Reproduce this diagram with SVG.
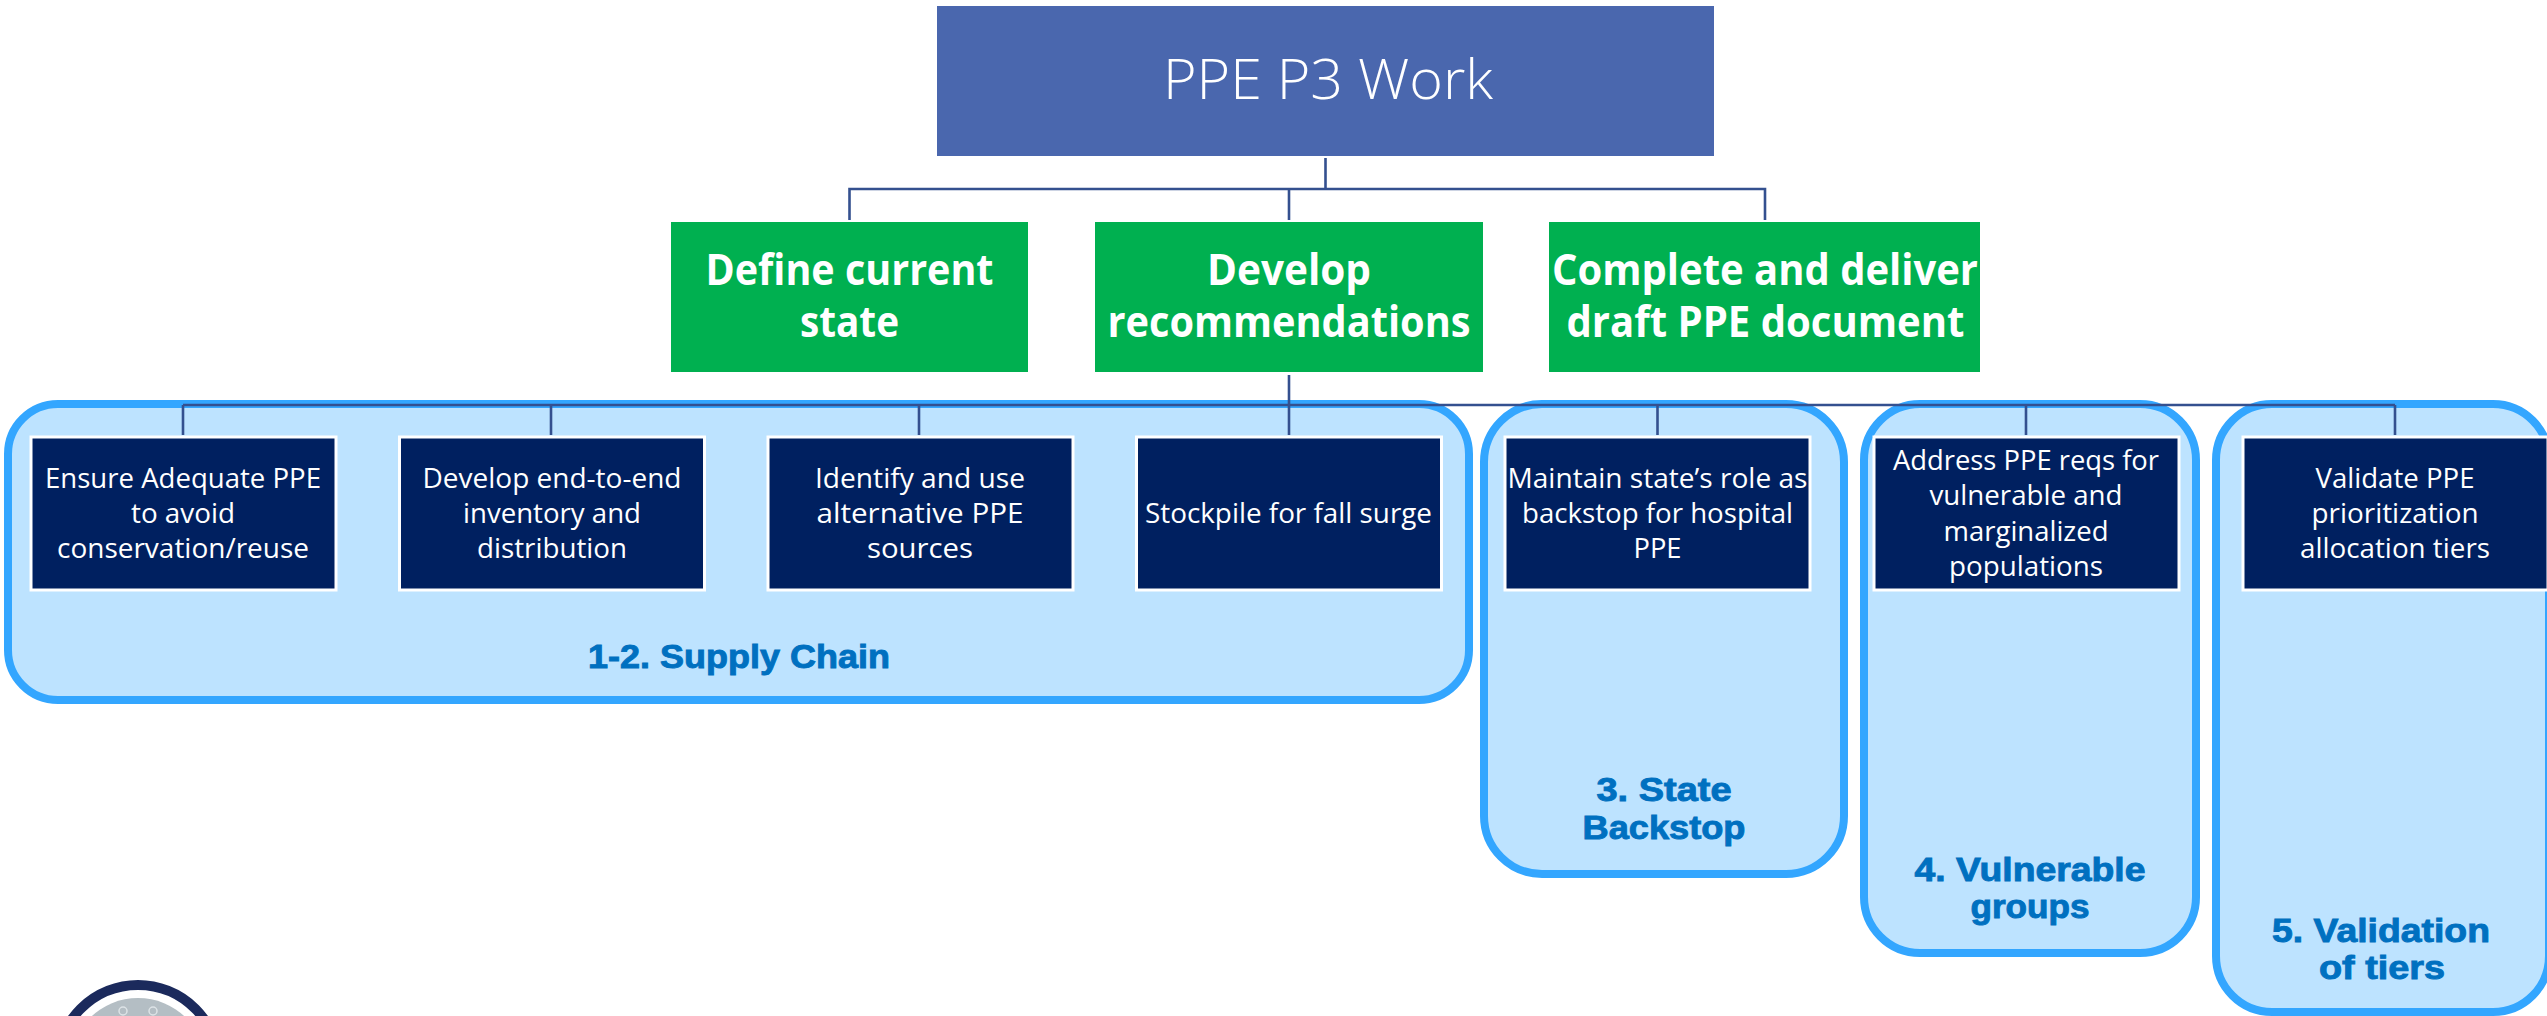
<svg xmlns="http://www.w3.org/2000/svg" width="2547" height="1016" viewBox="0 0 2547 1016">
<style>
text{text-anchor:middle}
.g{fill:#BDE3FF;stroke:#33A6FF;stroke-width:8}
.n{fill:#002060;stroke:#fff;stroke-width:3}
.nt{font:28px "Open Sans","Noto Sans",sans-serif;fill:#fff}
.gt{font:bold 43px "Open Sans","Noto Sans",sans-serif;fill:#fff}
.lb{font:bold 33px "Liberation Sans",Arial,sans-serif;fill:#0070C0;stroke:#0070C0;stroke-width:.9}
.c{fill:none;stroke:#34508F;stroke-width:2.6}
</style>
<rect width="2547" height="1016" fill="#fff"/>
<g id="logo">
<circle cx="138" cy="1066" r="81" fill="#fff" stroke="#1B2A5C" stroke-width="10"/>
<circle cx="138" cy="1066" r="68" fill="#B4BEC4"/>
<circle cx="123" cy="1011" r="4" fill="none" stroke="#DDE3E6" stroke-width="1.500"/>
<circle cx="153" cy="1011" r="4" fill="none" stroke="#DDE3E6" stroke-width="1.500"/>
</g>
<g id="group-supply"><rect class="g" x="8" y="404" width="1461" height="296" rx="50"/><text class="lb" x="739" y="668" textLength="302" lengthAdjust="spacingAndGlyphs">1-2. Supply Chain</text></g>
<g id="group-backstop"><rect class="g" x="1484" y="404" width="360" height="470" rx="58"/><text class="lb" x="1664" y="801" textLength="135" lengthAdjust="spacingAndGlyphs">3. State</text><text class="lb" x="1664" y="839" textLength="163" lengthAdjust="spacingAndGlyphs">Backstop</text></g>
<g id="group-vulnerable"><rect class="g" x="1864" y="404" width="332" height="549" rx="56"/><text class="lb" x="2030" y="881" textLength="231" lengthAdjust="spacingAndGlyphs">4. Vulnerable</text><text class="lb" x="2030" y="918" textLength="119" lengthAdjust="spacingAndGlyphs">groups</text></g>
<g id="group-validation"><rect class="g" x="2216" y="404" width="333" height="608" rx="56"/><text class="lb" x="2381" y="942" textLength="218" lengthAdjust="spacingAndGlyphs">5. Validation</text><text class="lb" x="2382" y="979" textLength="126" lengthAdjust="spacingAndGlyphs">of tiers</text></g>
<g id="connectors">
<path class="c" d="M1325.500 158V189M849.500 220V189H1765V220M1289 189V220"/>
<path class="c" d="M1289 375V405M183 405H2395M183 405V435M551 405V435M919 405V435M1289 405V435M1657.500 405V435M2026 405V435M2395 405V435"/>
</g>
<g id="title"><rect x="937" y="6" width="777" height="150" fill="#4A67AE"/><text x="1328" y="99" font-family="Open Sans" font-size="56" font-weight="300" fill="#fff" textLength="330" lengthAdjust="spacingAndGlyphs">PPE P3 Work</text></g>
<g id="define"><rect x="671" y="222" width="357" height="150" fill="#00B050"/><text class="gt" x="849.500" y="285" textLength="288" lengthAdjust="spacingAndGlyphs">Define current</text><text class="gt" x="849.500" y="337" textLength="99" lengthAdjust="spacingAndGlyphs">state</text></g>
<g id="develop"><rect x="1095" y="222" width="388" height="150" fill="#00B050"/><text class="gt" x="1289" y="285" textLength="164" lengthAdjust="spacingAndGlyphs">Develop</text><text class="gt" x="1289" y="337" textLength="363" lengthAdjust="spacingAndGlyphs">recommendations</text></g>
<g id="complete"><rect x="1549" y="222" width="431" height="150" fill="#00B050"/><text class="gt" x="1765" y="285" textLength="426" lengthAdjust="spacingAndGlyphs">Complete and deliver</text><text class="gt" x="1765.500" y="337" textLength="398" lengthAdjust="spacingAndGlyphs">draft PPE document</text></g>
<g id="n1"><rect class="n" x="31" y="437" width="305" height="153"/><text class="nt" x="183" y="488" textLength="276" lengthAdjust="spacingAndGlyphs">Ensure Adequate PPE</text><text class="nt" x="183" y="523" textLength="104" lengthAdjust="spacingAndGlyphs">to avoid</text><text class="nt" x="183" y="558" textLength="252" lengthAdjust="spacingAndGlyphs">conservation/reuse</text></g>
<g id="n2"><rect class="n" x="399.500" y="437" width="305" height="153"/><text class="nt" x="552" y="488" textLength="259" lengthAdjust="spacingAndGlyphs">Develop end-to-end</text><text class="nt" x="552" y="523" textLength="178" lengthAdjust="spacingAndGlyphs">inventory and</text><text class="nt" x="552" y="558" textLength="150" lengthAdjust="spacingAndGlyphs">distribution</text></g>
<g id="n3"><rect class="n" x="768" y="437" width="305" height="153"/><text class="nt" x="920" y="488" textLength="210" lengthAdjust="spacingAndGlyphs">Identify and use</text><text class="nt" x="920" y="523" textLength="207" lengthAdjust="spacingAndGlyphs">alternative PPE</text><text class="nt" x="920" y="558" textLength="106" lengthAdjust="spacingAndGlyphs">sources</text></g>
<g id="n4"><rect class="n" x="1136.500" y="437" width="305" height="153"/><text class="nt" x="1288.500" y="523" textLength="287" lengthAdjust="spacingAndGlyphs">Stockpile for fall surge</text></g>
<g id="n5"><rect class="n" x="1505" y="437" width="305" height="153"/><text class="nt" x="1657.500" y="488" textLength="300" lengthAdjust="spacingAndGlyphs">Maintain state’s role as</text><text class="nt" x="1657.500" y="523" textLength="271" lengthAdjust="spacingAndGlyphs">backstop for hospital</text><text class="nt" x="1657.500" y="558" textLength="48" lengthAdjust="spacingAndGlyphs">PPE</text></g>
<g id="n6"><rect class="n" x="1874" y="437" width="305" height="153"/><text class="nt" x="2026" y="470" textLength="266" lengthAdjust="spacingAndGlyphs">Address PPE reqs for</text><text class="nt" x="2026" y="505" textLength="193" lengthAdjust="spacingAndGlyphs">vulnerable and</text><text class="nt" x="2026" y="541" textLength="165" lengthAdjust="spacingAndGlyphs">marginalized</text><text class="nt" x="2026" y="576" textLength="154" lengthAdjust="spacingAndGlyphs">populations</text></g>
<g id="n7"><rect class="n" x="2243" y="437" width="305" height="153"/><text class="nt" x="2395" y="488" textLength="159" lengthAdjust="spacingAndGlyphs">Validate PPE</text><text class="nt" x="2395" y="523" textLength="167" lengthAdjust="spacingAndGlyphs">prioritization</text><text class="nt" x="2395" y="558" textLength="190" lengthAdjust="spacingAndGlyphs">allocation tiers</text></g>
</svg>
